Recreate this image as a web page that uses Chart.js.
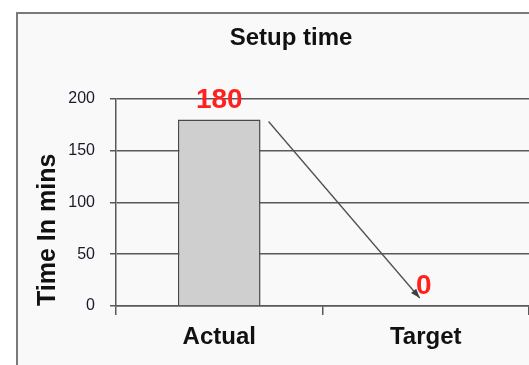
<!DOCTYPE html>
<html>
<head>
<meta charset="utf-8">
<title>Setup time</title>
<script src="https://cdn.jsdelivr.net/npm/chart.js@4.4.1/dist/chart.umd.min.js"></script>
<style>
  html, body { margin: 0; padding: 0; background: #ffffff; }
  canvas { display: block; }
</style>
</head>
<body>
<canvas id="setupChart" width="529" height="365"></canvas>
<script>
const categories = ['Actual', 'Target'];
const setupMinutes = [180, 0];
const yTicks = [0, 50, 100, 150, 200];

const FONT = '"Liberation Sans", Arial, sans-serif';
const LINE = '#595959';

// light panel with grey border behind the whole chart
const framePlugin = {
    id: 'frame',
    beforeDraw(chart) {
        const c = chart.ctx;
        c.save();
        c.fillStyle = '#ffffff';
        c.fillRect(0, 0, chart.width, chart.height);
        c.fillStyle = '#f9f9f9';
        c.fillRect(17, 13, chart.width, chart.height);
        c.strokeStyle = '#7a7a7a';
        c.lineWidth = 2;
        c.strokeRect(17, 13, chart.width + 20, chart.height + 20);
        c.restore();
    }
};

// red value labels above each bar
const valueLabels = {
    id: 'valueLabels',
    afterDatasetsDraw(chart) {
        const c = chart.ctx;
        const meta = chart.getDatasetMeta(0);
        c.save();
        c.fillStyle = '#ff2020';
        c.font = 'bold 28px ' + FONT;
        c.textAlign = 'center';
        c.textBaseline = 'alphabetic';
        meta.data.forEach(function (bar, i) {
            c.fillText(String(setupMinutes[i]), bar.x - (i ? 2 : 0), bar.y - 12);
        });
        c.restore();
    }
};

// arrow from the top of the Actual bar down to the Target value
const trendArrow = {
    id: 'trendArrow',
    afterDatasetsDraw(chart) {
        const c = chart.ctx;
        const bars = chart.getDatasetMeta(0).data;
        const from = bars[0], to = bars[1];
        const x1 = from.x + from.width / 2 + 8, y1 = from.y + 2;
        const x2 = to.x - 6, y2 = to.y - 8;
        const ang = Math.atan2(y2 - y1, x2 - x1);
        c.save();
        c.strokeStyle = '#505050';
        c.fillStyle = '#404040';
        c.lineWidth = 1.3;
        c.beginPath();
        c.moveTo(x1, y1);
        c.lineTo(x2, y2);
        c.stroke();
        c.beginPath();
        c.moveTo(x2, y2);
        c.lineTo(x2 - 10 * Math.cos(ang - 0.35), y2 - 10 * Math.sin(ang - 0.35));
        c.lineTo(x2 - 10 * Math.cos(ang + 0.35), y2 - 10 * Math.sin(ang + 0.35));
        c.closePath();
        c.fill();
        c.restore();
    }
};

new Chart(document.getElementById('setupChart').getContext('2d'), {
    type: 'bar',
    data: {
        labels: categories,
        datasets: [{
            data: setupMinutes,
            backgroundColor: '#cfcfcf',
            borderColor: '#4a4a4a',
            borderWidth: 1.5,
            categoryPercentage: 1,
            barPercentage: 0.4
        }]
    },
    options: {
        responsive: false,
        animation: false,
        layout: { padding: { left: 53, right: 0, top: 0, bottom: 0 } },
        plugins: {
            legend: { display: false },
            tooltip: { enabled: false },
            title: {
                display: true,
                text: 'Setup time',
                color: '#111111',
                font: { family: FONT, size: 24, weight: 'bold', lineHeight: 1.2 },
                padding: { top: 24, bottom: 46 }
            }
        },
        scales: {
            x: {
                grid: {
                    drawOnChartArea: false,
                    drawTicks: true,
                    tickLength: 9,
                    color: LINE,
                    lineWidth: 1.5
                },
                border: { color: LINE, width: 1.5 },
                ticks: {
                    color: '#111111',
                    padding: 8,
                    font: { family: FONT, size: 24, weight: 'bold' }
                },
                afterFit(scale) { scale.height = 59; }
            },
            y: {
                min: 0,
                max: 200,
                afterBuildTicks(scale) {
                    scale.ticks = yTicks.map(v => ({ value: v }));
                },
                grid: {
                    color: LINE,
                    lineWidth: 1.5,
                    tickLength: 6
                },
                border: { color: LINE, width: 1.5 },
                ticks: {
                    color: '#1a1a2a',
                    padding: 15,
                    font: { family: FONT, size: 16 }
                },
                title: {
                    display: true,
                    text: 'Time In mins',
                    align: 'start',
                    color: '#111111',
                    font: { family: FONT, size: 25, weight: 'bold', lineHeight: 1.2 },
                    padding: { top: -20, bottom: 0 }
                },
                afterFit(scale) { scale.width = 63; }
            }
        }
    },
    plugins: [framePlugin, valueLabels, trendArrow]
});
</script>
</body>
</html>
